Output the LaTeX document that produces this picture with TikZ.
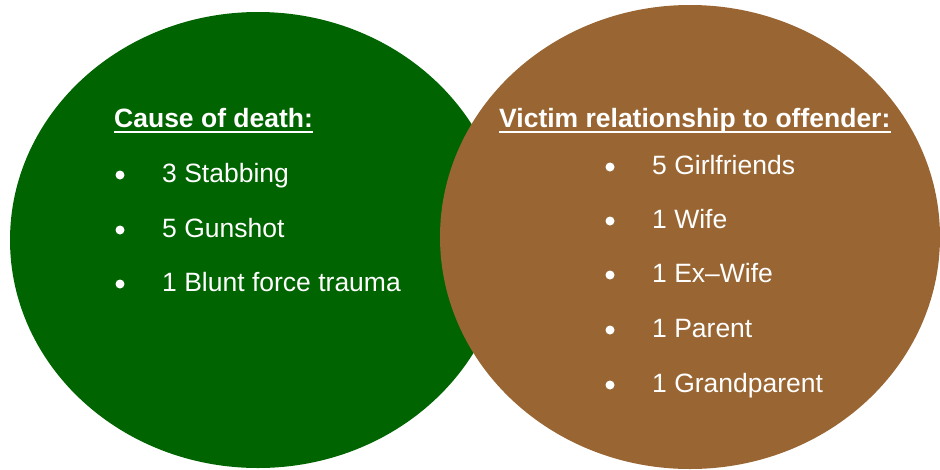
\documentclass[tikz,border=0pt]{standalone}
\usepackage{fontspec}
\setmainfont{Liberation Sans}
\definecolor{cgreen}{RGB}{0,100,0}
\definecolor{cbrown}{RGB}{153,102,51}
\begin{document}
\begin{tikzpicture}[x=1pt,y=-1pt,
  txt/.style={anchor=base west,inner sep=0pt,text=white,font=\fontsize{26.5}{30}\selectfont},
  head/.style={txt,font=\fontsize{26.5}{30}\selectfont\bfseries},
  bul/.style={circle,fill=white,inner sep=0pt,minimum size=9pt},
  uline/.style={draw=white,line width=2pt}]
\useasboundingbox (0,0) rectangle (940,469);
\fill[cgreen] (258,240) ellipse [x radius=248, y radius=228];
\fill[cbrown] (690,237) ellipse [x radius=250, y radius=232];
% left
\node[head] (h1) at (114,127) {Cause of death:};
\draw[uline] ([yshift=-4.5pt]h1.base west) -- ([yshift=-4.5pt]h1.base east);
\node[bul] (b1) at (120,175) {};
\node[txt] (t1) at (162,182) {3 Stabbing};
\node[bul] (b2) at (120,230) {};
\node[txt] (t2) at (162,237) {5 Gunshot};
\node[bul] (b3) at (120,284) {};
\node[txt] (t3) at (162,291) {1 Blunt force trauma};
% right
\node[head] (h2) at (499,127) {Victim relationship to offender:};
\draw[uline] ([yshift=-4.5pt]h2.base west) -- ([yshift=-4.5pt]h2.base east);
\node[bul] (r1) at (610,167) {};
\node[txt] (s1) at (652,174) {5 Girlfriends};
\node[bul] (r2) at (610,221) {};
\node[txt] (s2) at (652,228) {1 Wife};
\node[bul] (r3) at (610,275) {};
\node[txt] (s3) at (652,282) {1 Ex–Wife};
\node[bul] (r4) at (610,330) {};
\node[txt] (s4) at (652,337) {1 Parent};
\node[bul] (r5) at (610,385) {};
\node[txt] (s5) at (652,392) {1 Grandparent};
\end{tikzpicture}
\end{document}
